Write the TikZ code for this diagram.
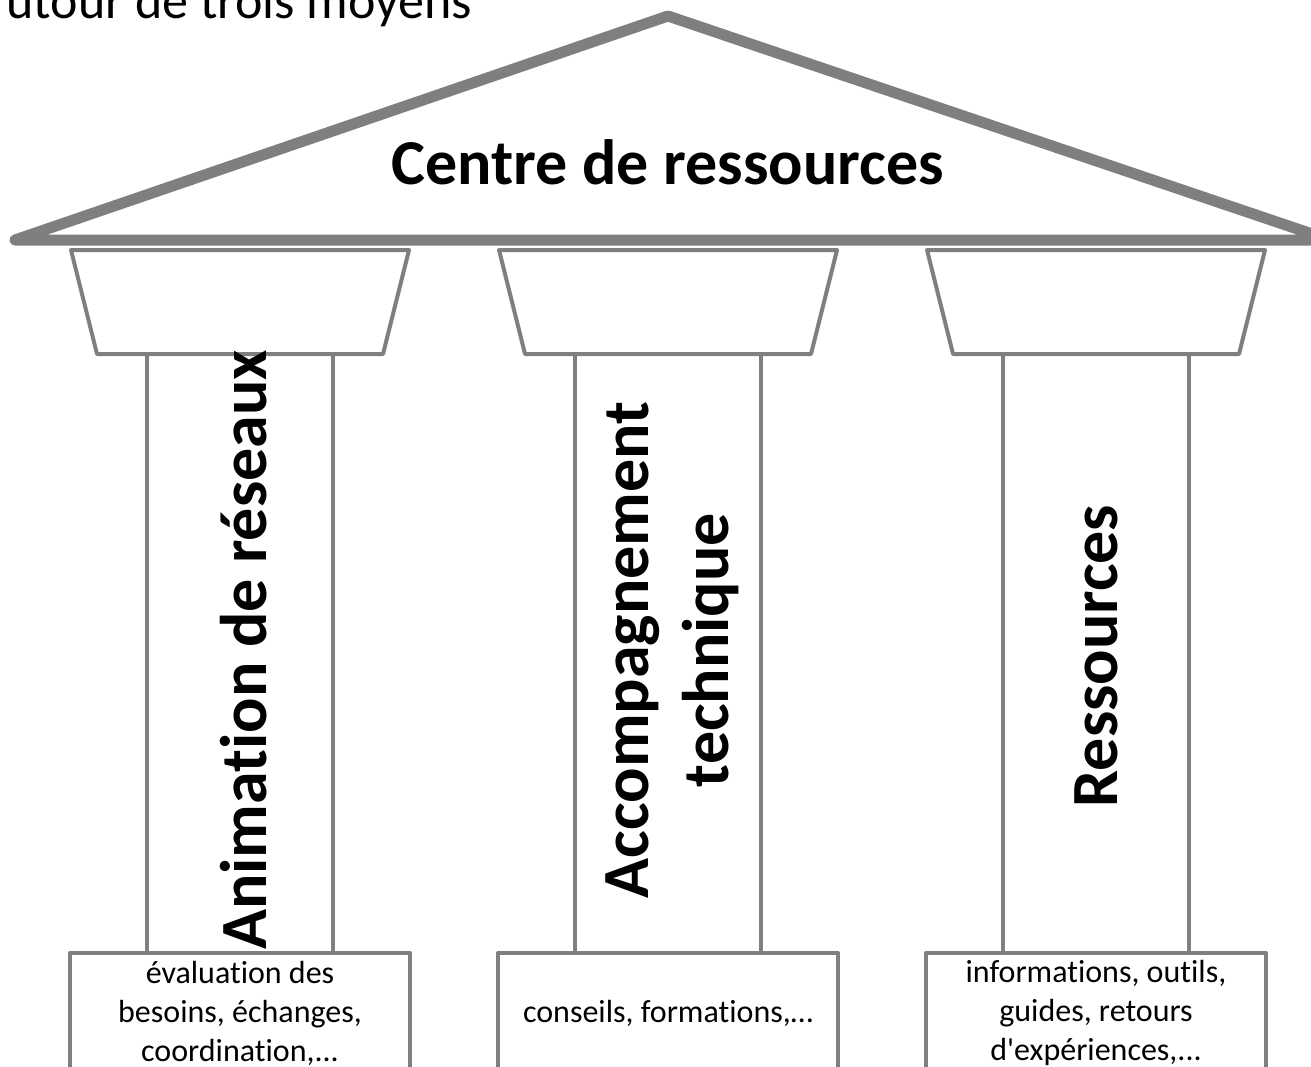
\documentclass[tikz,border=0pt]{standalone}
\usepackage{fontspec}
\setmainfont{Carlito}[Ligatures=TeX, RawFeature={-liga;-clig;-calt;-dlig;-rlig}]
\usetikzlibrary{positioning}
\definecolor{pillargray}{RGB}{127,127,127}
\tikzset{
	pillar/.pic = {
	 \coordinate (-label) at (4,400) ;
	 \coordinate (-base) at (0,763) ;
	 \draw [fill=white] (-169,0) -- (169,0) -- (143,104) -- (-143,104) -- cycle;
	 \draw (-93,104) -- (-93,703);
	 \draw (93,104) -- (93,703);
	 \draw [fill=white] (-170,703) rectangle (170,850);
	 }
	}
\tikzset{
	pillarlabel/.style = {rotate=90, align=center, font=\fontsize{33}{40}\selectfont\bfseries},
	basetext/.style = {align=center, font=\fontsize{16}{19.5}\selectfont}}

\begin{document}
\begin{tikzpicture}[x=0.5pt, y=-0.5pt, line width=2pt, line join=round, pillargray,
	every node/.append style={text=black}]
\useasboundingbox (0,0) rectangle (1311,1066);
\clip (0,0) rectangle (1311,1066);

% ROOF
\draw [line width=5.5pt] (15,240) -- (668,16) -- (1330,240) -- cycle;
\node (intro) [anchor=base west, font=\fontsize{26}{31}\selectfont] at (-2,18) {utour de trois moyens};
\node (title) [font=\fontsize{32}{39}\selectfont\bfseries] at (668,162) {Centre de ressources};

% PILLARS
\pic (anim) at (240,250) {pillar};
\pic (acc) at (668,250) {pillar};
\pic (res) at (1096,250) {pillar};

% LABELS
\node (animlabel) [pillarlabel] at (anim-label) {Animation de réseaux};
\node (acclabel) [pillarlabel] at (acc-label) {Accompagnement\\technique};
\node (reslabel) [pillarlabel, xshift=-3, yshift=2] at (res-label) {Ressources};

% BASES
\node (animbase) [basetext] at (anim-base) {évaluation des\\besoins, échanges,\\coordination,...};
\node (accbase) [basetext] at (acc-base) {conseils, formations,…};
\node (resbase) [basetext] at (res-base) {informations, outils,\\guides, retours\\d\textquotesingle expériences,...};

\end{tikzpicture}
\end{document}
